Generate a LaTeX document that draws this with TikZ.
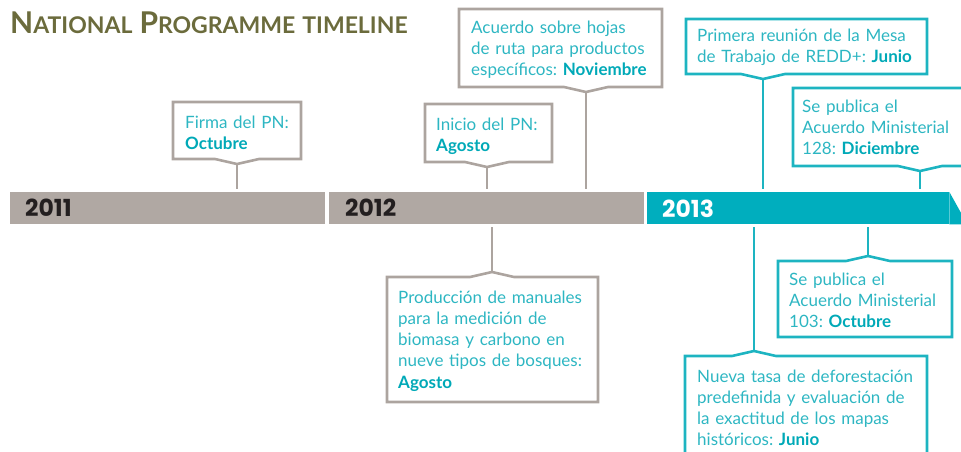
\documentclass[tikz,border=0pt]{standalone}
\usepackage{fontspec}
\setmainfont{Lato}
\newfontfamily\yearfont{Poppins}
\usetikzlibrary{positioning}
\usetikzlibrary{calc}
\frenchspacing

\definecolor{npText}{HTML}{2DB6C2}
\definecolor{npBold}{HTML}{00A9B7}
\definecolor{npTeal}{HTML}{00AEBE}
\definecolor{npTealLine}{HTML}{1DB4C1}
\definecolor{npBar}{HTML}{B0A8A3}
\definecolor{npLine}{HTML}{ACA49F}
\definecolor{npOlive}{HTML}{6B6B3C}
\definecolor{npDark}{HTML}{231F20}

\newcommand{\mes}[1]{\textbf{\color{npBold}#1}}
\newcommand{\tcap}[2]{{\fontsize{30}{30}\selectfont #1}{\fontsize{23}{23}\selectfont #2}}
% callout frame, notch below / above
\newcommand{\calldown}[7]{%
  \draw[#1] (#3,#4) -- (#5,#4) -- (#5,#6) -- (#7+22,#6) -- (#7,#6+5) -- (#7-22,#6) -- (#3,#6) -- cycle;
  \coordinate (#2) at (#7,#6+5);}
\newcommand{\callup}[7]{%
  \draw[#1] (#3,#4) -- (#7-22,#4) -- (#7,#4-5) -- (#7+22,#4) -- (#5,#4) -- (#5,#6) -- (#3,#6) -- cycle;
  \coordinate (#2) at (#7,#4-5);}

\begin{document}
\begin{tikzpicture}[x=1pt, y=-1pt, every node/.style={inner sep=0pt},
  note/.style={anchor=base west, text width=260pt, align=left, text=npText, font=\fontsize{17}{21.3}\selectfont},
  grayline/.style={draw=npLine, line width=2.6pt},
  tealline/.style={draw=npTealLine, line width=2.6pt},
  bar/.style={anchor=north west, minimum height=32pt, fill=npBar},
  year/.style={anchor=base west, font=\yearfont\bfseries\fontsize{23.5}{23.5}\selectfont}]
  \useasboundingbox (0,0) rectangle (961,451);
  \clip (0,0) rectangle (961,451);

  \node[anchor=base west, text=npOlive, font=\bfseries] (title) at (10,33)
    {\tcap{N}{ATIONAL}\hspace{7pt}\tcap{P}{ROGRAMME}\hspace{7pt}{\fontsize{23}{23}\selectfont TIMELINE}};

  % timeline bar
  \node[bar, minimum width=315pt] (y2011) at (10,192) {};
  \node[bar, minimum width=315pt] (y2012) at (329,192) {};
  \node[bar, minimum width=302pt, fill=npTeal] (y2013) at (647,192) {};
  \fill[npTeal] (y2013.north east) -- (y2013.south east) -- ++(18,0) -- cycle;
  \node[year, text=npDark] (l2011) at (25,216) {2011};
  \node[year, text=npDark] (l2012) at (345,216) {2012};
  \node[year, text=white] (l2013) at (662,217) {2013};

  % above the bar
  \calldown{grayline}{t1}{173}{102}{301}{159}{237}
  \node[note] (n1) at (185,128) {Firma del PN:\\\mes{Octubre}};
  \calldown{grayline}{t2}{425}{104}{552}{162}{487}
  \node[note] (n2) at (436,130) {Inicio del PN:\\\mes{Agosto}};
  \calldown{grayline}{t3}{459}{9}{662}{87}{586}
  \node[note] (n3) at (471,33) {Acuerdo sobre hojas\\de ruta para productos\\específicos: \mes{Noviembre}};
  \calldown{tealline}{t4}{686}{19}{927}{74}{763}
  \node[note] (n4) at (697,41) {Primera reunión de la Mesa\\de Trabajo de REDD+: \mes{Junio}};
  \calldown{tealline}{t5}{793}{88}{975}{166}{920}
  \node[note] (n5) at (802,112) {Se publica el\\Acuerdo Ministerial\\128: \mes{Diciembre}};

  % below the bar
  \callup{grayline}{t6}{387}{277}{598}{402}{492}
  \node[note] (n6) at (398,303) {Producción de manuales\\para la medición de\\biomasa y carbono en\\nueve tipos de bosques:\\\mes{Agosto}};
  \callup{tealline}{t7}{778}{261}{952}{337}{868}
  \node[note] (n7) at (789,285) {Se publica el\\Acuerdo Ministerial\\103: \mes{Octubre}};
  \callup{tealline}{t8}{685}{356}{927}{470}{754}
  \node[note] (n8) at (697,382) {Nueva tasa de deforestación\\predefinida y evaluación de\\la exactitud de los mapas\\históricos: \mes{Junio}};

  % stems
  \draw[grayline, shorten >=3pt] (t1) -- (t1 |- y2011.north);
  \draw[grayline, shorten >=3pt] (t2) -- (t2 |- y2012.north);
  \draw[grayline, shorten >=3pt] (t3) -- (t3 |- y2012.north);
  \draw[tealline, shorten >=3pt] (t4) -- (t4 |- y2013.north);
  \draw[tealline, shorten >=3pt] (t5) -- (t5 |- y2013.north);
  \draw[grayline, shorten <=3pt] (t6 |- y2012.south) -- (t6);
  \draw[tealline, shorten <=3pt] (t7 |- y2013.south) -- (t7);
  \draw[tealline, shorten <=3pt] (t8 |- y2013.south) -- (t8);
\end{tikzpicture}
\end{document}
